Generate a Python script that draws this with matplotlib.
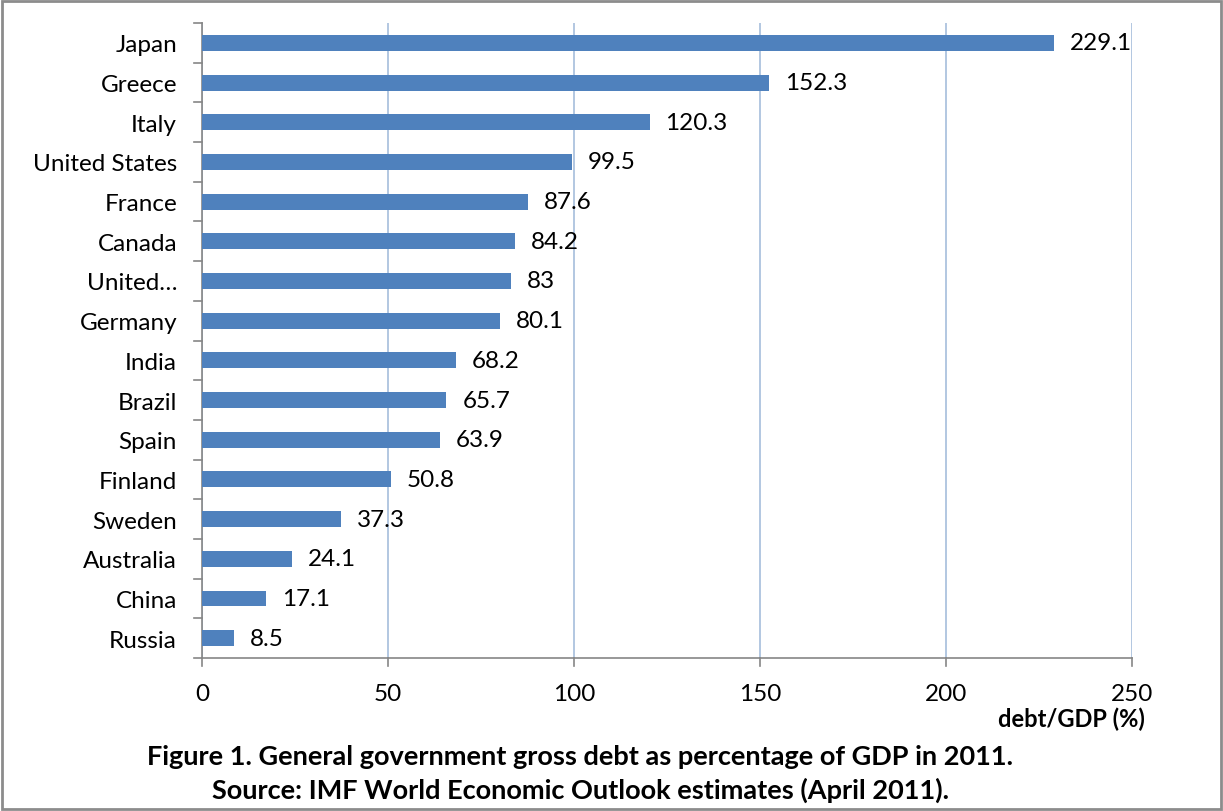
import matplotlib.pyplot as plt
from matplotlib.patches import Rectangle

countries = ['Japan', 'Greece', 'Italy', 'United States', 'France', 'Canada', 'United\u2026',
             'Germany', 'India', 'Brazil', 'Spain', 'Finland', 'Sweden', 'Australia', 'China', 'Russia']
debt = [229.1, 152.3, 120.3, 99.5, 87.6, 84.2, 83, 80.1, 68.2, 65.7, 63.9, 50.8, 37.3, 24.1, 17.1, 8.5]
labels = ['229.1', '152.3', '120.3', '99.5', '87.6', '84.2', '83', '80.1', '68.2', '65.7',
          '63.9', '50.8', '37.3', '24.1', '17.1', '8.5']
xticks = [0, 50, 100, 150, 200, 250]

plt.rcParams['font.family'] = ['Lato', 'DejaVu Sans']

fig = plt.figure(figsize=(12.23, 8.12), dpi=100)
ax = fig.add_axes([0.1652, 0.1884, 0.7604, 0.7820])

n = len(countries)
ypos = list(range(n))[::-1]
ax.barh(ypos, debt, height=0.4, color='#4f81bd', zorder=3)
for y, v, t in zip(ypos, debt, labels):
    ax.text(v + 4.3, y, t, va='center', ha='left', fontsize=17.5, zorder=4)

ax.set_xlim(0, 250)
ax.set_ylim(-0.5, n - 0.5)
ax.set_xticks(xticks)
ax.set_xticklabels([str(x) for x in xticks], fontsize=17.5)
ax.set_yticks(ypos)
ax.set_yticklabels(countries, fontsize=17.5)
ax.tick_params(axis='y', length=0, pad=18)
ax.tick_params(axis='x', length=0, pad=18)
ax.xaxis.grid(True, color='#a6bddb', linewidth=1.2, zorder=0)

# category boundary ticks on y axis, major ticks on x axis
for b in range(n + 1):
    ax.plot([-2.2, 0], [b - 0.5, b - 0.5], color='#868686', lw=1.2, clip_on=False, zorder=5)
for x in xticks:
    ax.plot([x, x], [-0.5, -0.5 - 0.2], color='#868686', lw=1.2, clip_on=False, zorder=5)

for s in ['top', 'right']:
    ax.spines[s].set_visible(False)
for s in ['left', 'bottom']:
    ax.spines[s].set_color('#868686')
    ax.spines[s].set_linewidth(1.2)

fig.text(1145 / 1223, 1 - 719 / 812, 'debt/GDP (%)', ha='right', va='center',
         fontsize=17, fontweight='bold')
fig.text(580 / 1223, 1 - 757 / 812, 'Figure 1. General government gross debt as percentage of GDP in 2011.',
         ha='center', va='center', fontsize=19.5, fontweight='bold')
fig.text(580 / 1223, 1 - 790 / 812, 'Source: IMF World Economic Outlook estimates (April 2011).',
         ha='center', va='center', fontsize=19.5, fontweight='bold')

fig.patches.append(Rectangle((0.002, 0.002), 0.996, 0.995, transform=fig.transFigure,
                             fill=False, edgecolor='#8c8c8c', linewidth=2))

fig.savefig('out.png', dpi=100)
